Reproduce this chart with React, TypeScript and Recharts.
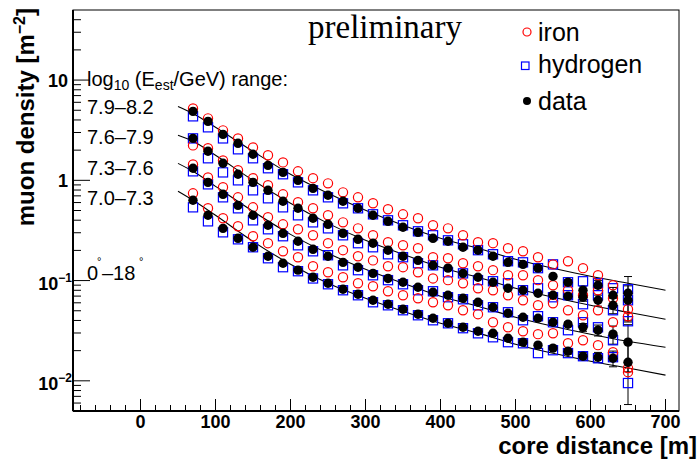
import React from 'react';
import { ComposedChart, Scatter, Line, XAxis, YAxis, ErrorBar } from 'recharts';

// core distance bins [m]
const distances = [70, 90, 110, 130, 150, 170, 190, 210, 230, 250, 270, 290, 310, 330, 350, 370, 390, 410, 430, 450, 470, 490, 510, 530, 550, 570, 590, 610, 630, 650];

// log10(E/GeV) 7.9-8.2
const dataG1 = [4.87, 3.87, 2.87, 2.34, 1.82, 1.41, 1.2, 1.0, 0.832, 0.709, 0.618, 0.526, 0.448, 0.39, 0.34, 0.303, 0.264, 0.247, 0.215, 0.201, 0.175, 0.152, 0.145, 0.133, 0.11, 0.0962, 0.0801, 0.0898, 0.0714, 0.0747];
const ironG1 = [5.22, 4.15, 3.15, 2.62, 2.13, 1.78, 1.51, 1.23, 1.05, 0.933, 0.759, 0.677, 0.59, 0.514, 0.458, 0.418, 0.356, 0.332, 0.283, 0.241, 0.236, 0.21, 0.196, 0.171, 0.145, 0.156, 0.133, 0.113, 0.0898, 0.0518];
const hydrogenG1 = [4.35, 3.38, 2.62, 2.04, 1.66, 1.32, 1.15, 0.955, 0.795, 0.677, 0.59, 0.526, 0.458, 0.399, 0.356, 0.31, 0.283, 0.252, 0.23, 0.201, 0.183, 0.156, 0.152, 0.133, 0.145, 0.0962, 0.0984, 0.094, 0.0838, 0.0819];
const errG1 = [0, 0, 0, 0, 0, 0, 0, 0, 0, 0, 0, 0, 0, 0, 0, 0, 0, 0, 0, 0, 0, 0, 0, 0, 0, 0.006, 0.008, 0.01, 0.014, 0.035];

// 7.6-7.9
const dataG2 = [2.62, 1.95, 1.48, 1.15, 0.955, 0.795, 0.618, 0.526, 0.418, 0.364, 0.296, 0.258, 0.236, 0.201, 0.175, 0.159, 0.142, 0.133, 0.118, 0.108, 0.0962, 0.0838, 0.0801, 0.0747, 0.0714, 0.0697, 0.0682, 0.0636, 0.0567, 0.0636];
const ironG2 = [2.23, 2.09, 1.58, 1.26, 1.05, 0.892, 0.725, 0.604, 0.526, 0.448, 0.381, 0.332, 0.283, 0.241, 0.225, 0.21, 0.171, 0.167, 0.149, 0.139, 0.127, 0.113, 0.113, 0.101, 0.0898, 0.0801, 0.0714, 0.0801, 0.0666, 0.0441];
const hydrogenG2 = [2.62, 1.66, 1.2, 1.0, 0.795, 0.662, 0.538, 0.448, 0.381, 0.332, 0.283, 0.236, 0.215, 0.183, 0.171, 0.149, 0.142, 0.121, 0.118, 0.101, 0.0984, 0.094, 0.0801, 0.0838, 0.0682, 0.0714, 0.0581, 0.0714, 0.0506, 0.0636];
const errG2 = [0, 0, 0, 0, 0, 0, 0, 0, 0, 0, 0, 0, 0, 0, 0, 0, 0, 0, 0, 0, 0, 0, 0, 0, 0, 0.004, 0.006, 0.008, 0.01, 0.025];

// 7.3-7.6
const dataG3 = [1.32, 0.955, 0.725, 0.563, 0.448, 0.356, 0.296, 0.247, 0.205, 0.175, 0.152, 0.136, 0.118, 0.105, 0.0962, 0.0857, 0.0765, 0.0714, 0.0666, 0.0608, 0.0542, 0.0472, 0.0431, 0.0421, 0.0384, 0.0367, 0.0342, 0.032, 0.0292, 0.0243];
const ironG3 = [1.44, 1.07, 0.852, 0.677, 0.538, 0.428, 0.364, 0.325, 0.283, 0.236, 0.201, 0.175, 0.159, 0.139, 0.136, 0.121, 0.105, 0.101, 0.094, 0.0838, 0.0801, 0.0714, 0.0636, 0.0567, 0.0594, 0.0506, 0.0451, 0.0506, 0.0384, 0.0134];
const hydrogenG3 = [1.23, 0.912, 0.677, 0.526, 0.399, 0.325, 0.277, 0.225, 0.196, 0.179, 0.142, 0.127, 0.113, 0.101, 0.0919, 0.0801, 0.0782, 0.0682, 0.0651, 0.0567, 0.0542, 0.0483, 0.0402, 0.0441, 0.0384, 0.032, 0.0384, 0.0342, 0.0254, 0.0393];
const errG3 = [0, 0, 0, 0, 0, 0, 0, 0, 0, 0, 0, 0, 0, 0, 0, 0, 0, 0, 0, 0, 0, 0, 0, 0, 0, 0.002, 0.003, 0.004, 0.006, 0.012];

// 7.0-7.3
const dataG4 = [0.632, 0.448, 0.332, 0.264, 0.215, 0.175, 0.149, 0.127, 0.108, 0.094, 0.0819, 0.073, 0.0636, 0.0581, 0.0518, 0.0462, 0.0421, 0.0375, 0.0342, 0.0312, 0.0298, 0.0266, 0.0243, 0.0227, 0.0212, 0.0197, 0.0176, 0.0172, 0.0168, 0.0153];
const ironG4 = [0.742, 0.526, 0.418, 0.348, 0.277, 0.236, 0.196, 0.171, 0.139, 0.121, 0.108, 0.094, 0.0877, 0.0782, 0.0714, 0.0666, 0.0608, 0.0567, 0.0506, 0.0462, 0.0384, 0.0342, 0.0312, 0.0292, 0.0298, 0.0237, 0.0254, 0.0227, 0.0193, 0.0122];
const hydrogenG4 = [0.538, 0.39, 0.303, 0.258, 0.215, 0.167, 0.136, 0.124, 0.105, 0.0919, 0.0801, 0.0714, 0.0608, 0.0567, 0.0506, 0.0451, 0.0402, 0.0375, 0.0335, 0.0298, 0.0272, 0.0243, 0.0237, 0.0189, 0.0202, 0.0189, 0.0176, 0.0168, 0.0172, 0.0095];
const errG4 = [0, 0, 0, 0, 0, 0, 0, 0, 0, 0, 0, 0, 0, 0, 0, 0, 0, 0, 0, 0, 0, 0, 0, 0, 0, 0.0012, 0.0015, 0.002, 0.003, 0.0095];

// fit curves
const fitX = [50, 70, 100, 150, 200, 250, 300, 350, 400, 450, 500, 550, 600, 650, 700];
const fitG1 = [5.46, 4.65, 3.38, 1.945, 1.147, 0.742, 0.502, 0.356, 0.264, 0.21, 0.163, 0.1326, 0.1104, 0.094, 0.0801];
const fitG2 = [2.81, 2.45, 1.776, 1.0, 0.59, 0.372, 0.252, 0.1829, 0.1358, 0.1079, 0.0838, 0.0682, 0.0567, 0.0483, 0.0411];
const fitG3 = [1.476, 1.229, 0.871, 0.49, 0.289, 0.187, 0.1296, 0.094, 0.0698, 0.0554, 0.0431, 0.035, 0.0292, 0.0248, 0.0216];
const fitG4 = [0.777, 0.632, 0.448, 0.246, 0.1454, 0.094, 0.0666, 0.0494, 0.0375, 0.0299, 0.0232, 0.0188, 0.0157, 0.0134, 0.0114];

const energyBins = ['7.9\u20138.2', '7.6\u20137.9', '7.3\u20137.6', '7.0\u20137.3'];

const xTicks = [-80, -60, -40, -20, 0, 20, 40, 60, 80, 100, 120, 140, 160, 180, 200, 220, 240, 260, 280, 300, 320, 340, 360, 380, 400, 420, 440, 460, 480, 500, 520, 540, 560, 580, 600, 620, 640, 660, 680, 700];
const yTicks = [0.006, 0.007, 0.008, 0.009, 0.01, 0.02, 0.03, 0.04, 0.05, 0.06, 0.07, 0.08, 0.09, 0.1, 0.2, 0.3, 0.4, 0.5, 0.6, 0.7, 0.8, 0.9, 1, 2, 3, 4, 5, 6, 7, 8, 9, 10, 20, 30, 40];

const SANS = 'Liberation Sans, Arial, Helvetica, sans-serif';

const pts = (ys: number[], errs?: number[]) => distances.map((x, i) => ({ x, y: ys[i], err: errs ? errs[i] : 0 }));
const fitPts = (ys: number[]) => fitX.map((x, i) => ({ x, y: ys[i] }));

const IronMark = (p: any) => <circle cx={p.cx} cy={p.cy} r={4.6} fill="none" stroke="#ff0000" strokeWidth={1.2} />;
const HydrogenMark = (p: any) => <rect x={p.cx - 4.6} y={p.cy - 4.6} width={9.2} height={9.2} fill="none" stroke="#0000ff" strokeWidth={1.2} />;
const DataMark = (p: any) => <circle cx={p.cx} cy={p.cy} r={4.7} fill="#000" />;

const XTick = ({ x, y, payload }: any) => {
  const v = payload.value;
  const major = v % 100 === 0;
  return (
    <g>
      <line x1={x} x2={x} y1={y} y2={y - (major ? 12 : 6)} stroke="#000" strokeWidth={1} />
      {major && (
        <text x={x} y={y + 17} textAnchor="middle" fontFamily={SANS} fontWeight="bold" fontSize={18} fill="#000">
          {v}
        </text>
      )}
    </g>
  );
};

const YTick = ({ x, y, payload }: any) => {
  const v = payload.value;
  const major = v === 0.01 || v === 0.1 || v === 1 || v === 10;
  let label = null;
  if (v === 10 || v === 1) {
    label = (
      <text x={x - 5} y={y + 7} textAnchor="end" fontFamily={SANS} fontWeight="bold" fontSize={18} fill="#000">
        {v}
      </text>
    );
  } else if (v === 0.1 || v === 0.01) {
    label = (
      <text x={x - 1} y={y + 9} textAnchor="end" fontFamily={SANS} fontWeight="bold" fontSize={18} fill="#000">
        10<tspan dy={-8} fontSize={12}>{v === 0.1 ? '\u22121' : '\u22122'}</tspan>
      </text>
    );
  }
  return (
    <g>
      <line x1={x} x2={x + (major ? 17 : 8)} y1={y} y2={y} stroke="#000" strokeWidth={1} />
      {label}
    </g>
  );
};

export default function App() {
  const groups = [
    { data: dataG1, iron: ironG1, hydrogen: hydrogenG1, err: errG1, fit: fitG1 },
    { data: dataG2, iron: ironG2, hydrogen: hydrogenG2, err: errG2, fit: fitG2 },
    { data: dataG3, iron: ironG3, hydrogen: hydrogenG3, err: errG3, fit: fitG3 },
    { data: dataG4, iron: ironG4, hydrogen: hydrogenG4, err: errG4, fit: fitG4 },
  ];
  const rowY = [114, 144, 175, 205];

  return (
    <div style={{ position: 'absolute', left: 0, top: 0, width: 699, height: 462, background: '#fff' }}>
      <ComposedChart width={699} height={462} margin={{ top: 10, right: 20, bottom: 0, left: 0 }}>
        <XAxis
          dataKey="x"
          type="number"
          domain={[-90, 718]}
          allowDataOverflow
          ticks={xTicks}
          interval={0}
          height={51}
          tickSize={0}
          tickMargin={0}
          axisLine={false}
          tickLine={false}
          tick={<XTick />}
        />
        <YAxis
          dataKey="y"
          type="number"
          scale="log"
          domain={[0.005, 50]}
          allowDataOverflow
          ticks={yTicks}
          interval={0}
          width={73}
          tickSize={0}
          tickMargin={0}
          axisLine={false}
          tickLine={false}
          tick={<YTick />}
        />
        {groups.map((g, i) => (
          <Line
            key={'fit' + i}
            data={fitPts(g.fit)}
            dataKey="y"
            type="monotone"
            stroke="#000"
            strokeWidth={1.1}
            dot={false}
            isAnimationActive={false}
          />
        ))}
        {groups.map((g, i) => (
          <Scatter key={'h' + i} data={pts(g.hydrogen)} dataKey="y" shape={HydrogenMark} isAnimationActive={false} />
        ))}
        {groups.map((g, i) => (
          <Scatter key={'fe' + i} data={pts(g.iron)} dataKey="y" shape={IronMark} isAnimationActive={false} />
        ))}
        {groups.map((g, i) => (
          <Scatter key={'d' + i} data={pts(g.data, g.err)} dataKey="y" shape={DataMark} isAnimationActive={false}>
            <ErrorBar dataKey="err" direction="y" width={4} stroke="#000" strokeWidth={1} />
          </Scatter>
        ))}
      </ComposedChart>

      <svg width={699} height={462} style={{ position: 'absolute', left: 0, top: 0, pointerEvents: 'none' }}>
        <rect x={73} y={10} width={606} height={401} fill="none" stroke="#000" strokeWidth={1} />
        <line x1={73} x2={73} y1={10} y2={411} stroke="#000" strokeWidth={2} />
        <line x1={73} x2={679} y1={411} y2={411} stroke="#000" strokeWidth={2} />

        <text x={697} y={454} textAnchor="end" fontFamily={SANS} fontWeight="bold" fontSize={24} fill="#000">
          core distance [m]
        </text>
        <text
          transform="translate(34,8) rotate(-90)"
          textAnchor="end"
          fontFamily={SANS}
          fontWeight="bold"
          fontSize={24}
          fill="#000"
        >
          muon density [m<tspan dy={-9} fontSize={16}>{'\u22122'}</tspan>
          <tspan dy={9}>]</tspan>
        </text>

        <text x={308} y={38} fontFamily="Liberation Serif, Times New Roman, serif" fontSize={33} fill="#000">
          preliminary
        </text>

        <circle cx={527} cy={32} r={4} fill="none" stroke="#ff0000" strokeWidth={1.2} />
        <text x={538} y={41} fontFamily={SANS} fontSize={25} fill="#000">iron</text>
        <rect x={521.5} y={62} width={7.5} height={7.5} fill="none" stroke="#0000ff" strokeWidth={1.2} />
        <text x={538} y={73} fontFamily={SANS} fontSize={25} fill="#000">hydrogen</text>
        <circle cx={527} cy={101} r={4} fill="#000" />
        <text x={538} y={110} fontFamily={SANS} fontSize={25} fill="#000">data</text>

        <text x={87} y={86} fontFamily={SANS} fontSize={20} fill="#000">
          log<tspan dy={4} fontSize={14}>10</tspan>
          <tspan dy={-4}> (E</tspan>
          <tspan dy={4} fontSize={14}>est</tspan>
          <tspan dy={-4}>/GeV) range:</tspan>
        </text>
        {energyBins.map((b, i) => (
          <text key={b} x={87} y={rowY[i]} fontFamily={SANS} fontSize={20} fill="#000">
            {b}
          </text>
        ))}

        <text x={87} y={280} fontFamily={SANS} fontSize={20} fill="#000">0</text>
        <text x={97} y={265} fontFamily={SANS} fontSize={11} fill="#000">{'\u00b0'}</text>
        <text x={102} y={280} fontFamily={SANS} fontSize={20} fill="#000">{'\u201318'}</text>
        <text x={139} y={265} fontFamily={SANS} fontSize={11} fill="#000">{'\u00b0'}</text>
      </svg>
    </div>
  );
}
